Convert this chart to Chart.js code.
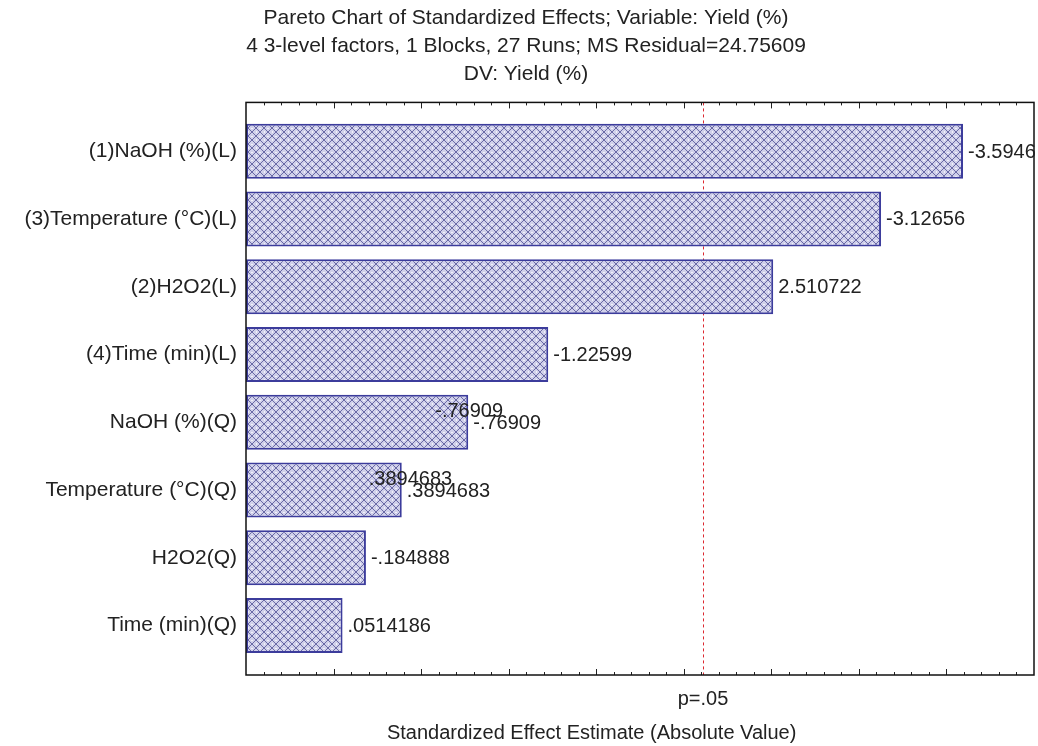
<!DOCTYPE html>
<html><head><meta charset="utf-8">
<script src="https://cdn.jsdelivr.net/npm/chart.js@4.4.1/dist/chart.umd.min.js"></script>
<style>html,body{margin:0;padding:0;background:#fff}canvas{display:block}</style>
</head><body>
<canvas id="c" width="1038" height="746"></canvas>
<script>
// ---- data ----
const categories = ["(1)NaOH (%)(L)", "(3)Temperature (°C)(L)", "(2)H2O2(L)", "(4)Time (min)(L)",
  "NaOH (%)(Q)", "Temperature (°C)(Q)", "H2O2(Q)", "Time (min)(Q)"];
const effects = [-3.5946, -3.12656, 2.510722, -1.22599, -0.76909, 0.3894683, -0.184888, 0.0514186];
const ghostRows = [4, 5];
const titleLines = ["Pareto Chart of Standardized Effects; Variable: Yield (%)",
  "4 3-level factors, 1 Blocks, 27 Runs; MS Residual=24.75609",
  "DV: Yield (%)"];
const xAxisTitle = "Standardized Effect Estimate (Absolute Value)";
const pCritical = 2.109816;
const pLabel = "p=.05";
const xRange = [-0.5, 4.0];
const yRange = [-0.72, 7.73];

const FONT = '"Liberation Sans", Arial, sans-serif';
function fmt(v) { return String(v).replace(/^(-?)0\./, '$1.'); }

// hatch pattern
function makePattern() {
  const s = 8, c = document.createElement('canvas');
  c.width = s; c.height = s;
  const g = c.getContext('2d');
  g.fillStyle = '#d0d0ea'; g.fillRect(0, 0, s, s);
  g.strokeStyle = '#6a6aa6'; g.lineWidth = 1;
  g.beginPath(); g.moveTo(0, 0); g.lineTo(s, s); g.moveTo(0, s); g.lineTo(s, 0); g.stroke();
  g.fillStyle = '#f0f0fa'; g.fillRect(s / 2 - 1, 0, 2, 1); g.fillRect(0, s / 2 - 1, 1, 2);
  return g.createPattern(c, 'repeat');
}

const pareto = {
  id: 'pareto',
  beforeDatasetsDraw(chart) {
    const { ctx, chartArea: a, scales: { x } } = chart;
    ctx.save();
    const px = Math.round(x.getPixelForValue(pCritical)) + 0.5;
    ctx.strokeStyle = '#dc2830'; ctx.lineWidth = 1; ctx.setLineDash([3, 3]);
    ctx.beginPath(); ctx.moveTo(px, a.top); ctx.lineTo(px, a.bottom); ctx.stroke();
    ctx.restore();
  },
  afterDraw(chart) {
    const { ctx, chartArea: a, scales: { x } } = chart;
    ctx.save();
    // tick marks (inside)
    ctx.strokeStyle = '#222'; ctx.lineWidth = 1;
    const k0 = Math.ceil(xRange[0] * 10 + 1e-6), k1 = Math.floor(xRange[1] * 10 - 1e-6);
    ctx.beginPath();
    for (let k = k0; k <= k1; k++) {
      const px = Math.round(x.getPixelForValue(k / 10)) + 0.5;
      const len = (k % 5 === 0) ? 6 : 3;
      ctx.moveTo(px, a.top); ctx.lineTo(px, a.top + len);
      ctx.moveTo(px, a.bottom); ctx.lineTo(px, a.bottom - len);
    }
    ctx.stroke();
    // frame
    ctx.strokeStyle = '#111'; ctx.lineWidth = 1.5;
    ctx.strokeRect(a.left, a.top, a.right - a.left, a.bottom - a.top);
    // value labels
    const meta = chart.getDatasetMeta(0);
    ctx.font = '20px ' + FONT; ctx.fillStyle = '#222';
    ctx.textBaseline = 'middle'; ctx.textAlign = 'left';
    meta.data.forEach((bar, i) => {
      const t = fmt(effects[i]);
      ctx.fillText(t, bar.x + 5, bar.y + 1);
      if (ghostRows.includes(i)) ctx.fillText(t, bar.x + 5 - 38, bar.y - 11);
    });
    // axis title
    ctx.textAlign = 'center';
    ctx.fillText(xAxisTitle, chart.width * 0.57, chart.height - 13);
    ctx.restore();
  }
};

new Chart(document.getElementById('c'), {
  type: 'bar',
  data: {
    datasets: [{
      data: effects.map((v, i) => ({ x: Math.abs(v), y: i })),
      base: xRange[0],
      backgroundColor: makePattern(),
      borderColor: '#3c3c9c',
      borderWidth: 2,
      borderSkipped: false,
      categoryPercentage: 1,
      barPercentage: 0.81
    }]
  },
  options: {
    responsive: false,
    animation: false,
    indexAxis: 'y',
    layout: { padding: { left: 18, right: 4, top: 0, bottom: 0 } },
    plugins: {
      legend: { display: false },
      tooltip: { enabled: false },
      title: {
        display: true, text: titleLines, color: '#222',
        font: { family: FONT, size: 21, weight: 'normal', lineHeight: 1.34 },
        padding: { top: 4, bottom: 14 }
      }
    },
    scales: {
      x: {
        type: 'linear', min: xRange[0], max: xRange[1], offset: false,
        grid: { display: false, drawTicks: false },
        border: { display: false },
        afterBuildTicks: s => { s.ticks = [{ value: pCritical }]; },
        afterFit: s => { s.height = 71; },
        ticks: { callback: () => pLabel, color: '#222', padding: 12, font: { family: FONT, size: 20 }, autoSkip: false, maxRotation: 0 }
      },
      y: {
        type: 'linear', reverse: true, min: yRange[0], max: yRange[1], offset: false,
        grid: { display: false, drawTicks: false, offset: false },
        border: { display: false },
        afterBuildTicks: s => { s.ticks = categories.map((_, i) => ({ value: i })); },
        afterFit: s => { s.width = 228; },
        ticks: { callback: v => categories[v], color: '#222', padding: 9, font: { family: FONT, size: 21 }, autoSkip: false }
      }
    }
  },
  plugins: [pareto]
});
</script>
</body></html>
